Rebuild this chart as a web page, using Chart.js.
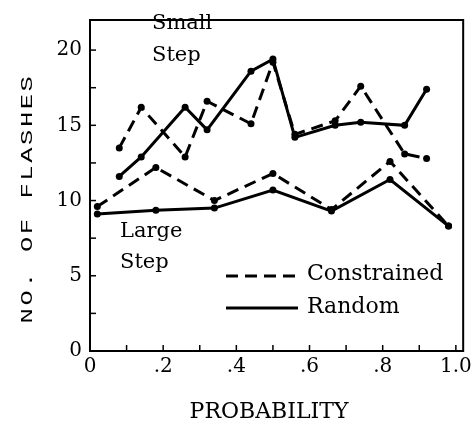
<!DOCTYPE html>
<html>
<head>
<meta charset="utf-8">
<script src="https://cdn.jsdelivr.net/npm/chart.js@4"></script>
<style>
  html, body { margin: 0; padding: 0; background: #fff; }
  #wrap { width: 476px; height: 430px; }
</style>
</head>
<body>
<div id="wrap"><canvas id="chart" width="476" height="430"></canvas></div>
<script>
// probabilities and mean number of flashes
const smallStepX = [0.08, 0.14, 0.26, 0.32, 0.44, 0.50, 0.56, 0.67, 0.74, 0.86, 0.92];
const smallConstrained = [13.5, 16.2, 12.9, 16.6, 15.1, 19.2, 14.4, 15.3, 17.6, 13.1, 12.8];
const smallRandom = [11.6, 12.9, 16.2, 14.7, 18.6, 19.4, 14.2, 15.0, 15.2, 15.0, 17.4];

const largeStepX = [0.02, 0.18, 0.34, 0.50, 0.66, 0.82, 0.98];
const largeConstrained = [9.6, 12.2, 10.0, 11.8, 9.4, 12.6, 8.3];
const largeRandom = [9.1, 9.35, 9.5, 10.7, 9.3, 11.4, 8.3];

const xTickValues = [0, 0.2, 0.4, 0.6, 0.8, 1.0];
const xTickLabels = ['0', '.2', '.4', '.6', '.8', '1.0'];
const yTickValues = [0, 5, 10, 15, 20];

const serif = "'DejaVu Serif', serif";

function pts(xs, ys) {
    return xs.map((x, i) => ({ x: x, y: ys[i] }));
}

function series(label, xs, ys, dashed) {
    return {
        label: label,
        data: pts(xs, ys),
        showLine: true,
        borderColor: '#000',
        backgroundColor: '#000',
        borderWidth: 3,
        borderDash: dashed ? [12, 7] : [],
        pointRadius: 3.5,
        pointHoverRadius: 3.5,
        pointBackgroundColor: '#000',
        pointBorderWidth: 0,
    };
}

// frame, inward ticks, axis titles, text notes and the legend
const extras = {
    id: 'extras',
    afterDatasetsDraw(chart) {
        const { ctx, chartArea: a, scales: { x, y } } = chart;
        ctx.save();
        ctx.strokeStyle = '#000';
        ctx.lineWidth = 2;
        ctx.setLineDash([]);
        ctx.strokeRect(a.left, a.top, a.right - a.left, a.bottom - a.top);

        // x ticks every .1
        ctx.lineWidth = 1.5;
        for (let i = 1; i <= 10; i++) {
            const px = x.getPixelForValue(i / 10);
            ctx.beginPath();
            ctx.moveTo(px, a.bottom);
            ctx.lineTo(px, a.bottom - 6);
            ctx.stroke();
        }
        // y ticks every 2.5
        for (let v = 2.5; v <= 20; v += 2.5) {
            const py = y.getPixelForValue(v);
            ctx.beginPath();
            ctx.moveTo(a.left, py);
            ctx.lineTo(a.left + 6, py);
            ctx.stroke();
        }

        ctx.fillStyle = '#000';
        ctx.textBaseline = 'middle';
        ctx.textAlign = 'center';

        // axis titles
        ctx.font = '22px ' + serif;
        ctx.fillText('PROBABILITY', 269, 412);
        ctx.save();
        ctx.translate(27, 200);
        ctx.rotate(-Math.PI / 2);
        ctx.scale(1.5, 1); // typewriter letters are wide
        ctx.font = "17px 'Liberation Mono', monospace";
        ctx.letterSpacing = '1.7px';
        ctx.fillText('NO. OF FLASHES', 1, 0);
        ctx.restore();

        ctx.textAlign = 'left';
        ctx.font = '21px ' + serif;
        ctx.fillText('Small', 152, 24);
        ctx.fillText('Step', 152, 56);
        ctx.fillText('Large', 120, 232);
        ctx.fillText('Step', 120, 263);

        // legend
        ctx.font = '22px ' + serif;
        ctx.lineWidth = 3;
        ctx.setLineDash([12, 7]);
        ctx.beginPath();
        ctx.moveTo(226, 276);
        ctx.lineTo(298, 276);
        ctx.stroke();
        ctx.setLineDash([]);
        ctx.beginPath();
        ctx.moveTo(226, 308);
        ctx.lineTo(298, 308);
        ctx.stroke();
        ctx.fillText('Constrained', 307, 274);
        ctx.fillText('Random', 307, 307);
        ctx.restore();
    }
};

new Chart(document.getElementById('chart'), {
    type: 'scatter',
    data: {
        datasets: [
            series('Small Constrained', smallStepX, smallConstrained, true),
            series('Small Random', smallStepX, smallRandom, false),
            series('Large Constrained', largeStepX, largeConstrained, true),
            series('Large Random', largeStepX, largeRandom, false),
        ]
    },
    options: {
        responsive: false,
        animation: false,
        layout: { padding: { top: 7, right: 12, left: 0, bottom: 0 } },
        plugins: {
            legend: { display: false },
            tooltip: { enabled: false },
        },
        scales: {
            x: {
                type: 'linear',
                min: 0,
                max: 1.02,
                afterBuildTicks: (s) => { s.ticks = xTickValues.map(v => ({ value: v })); },
                ticks: {
                    color: '#000',
                    font: { family: serif, size: 20 },
                    padding: 4,
                    maxRotation: 0,
                    callback: (v) => {
                        const i = xTickValues.findIndex(t => Math.abs(t - v) < 1e-6);
                        return i >= 0 ? xTickLabels[i] : '';
                    }
                },
                grid: { display: false, drawTicks: false },
                border: { display: false },
                afterFit: (s) => { s.height = 79; }
            },
            y: {
                min: 0,
                max: 22,
                afterBuildTicks: (s) => { s.ticks = yTickValues.map(v => ({ value: v })); },
                ticks: {
                    color: '#000',
                    font: { family: serif, size: 20 },
                    padding: 8,
                },
                grid: { display: false, drawTicks: false },
                border: { display: false },
                afterFit: (s) => { s.width = 90; }
            }
        }
    },
    plugins: [extras]
});
</script>
</body>
</html>
